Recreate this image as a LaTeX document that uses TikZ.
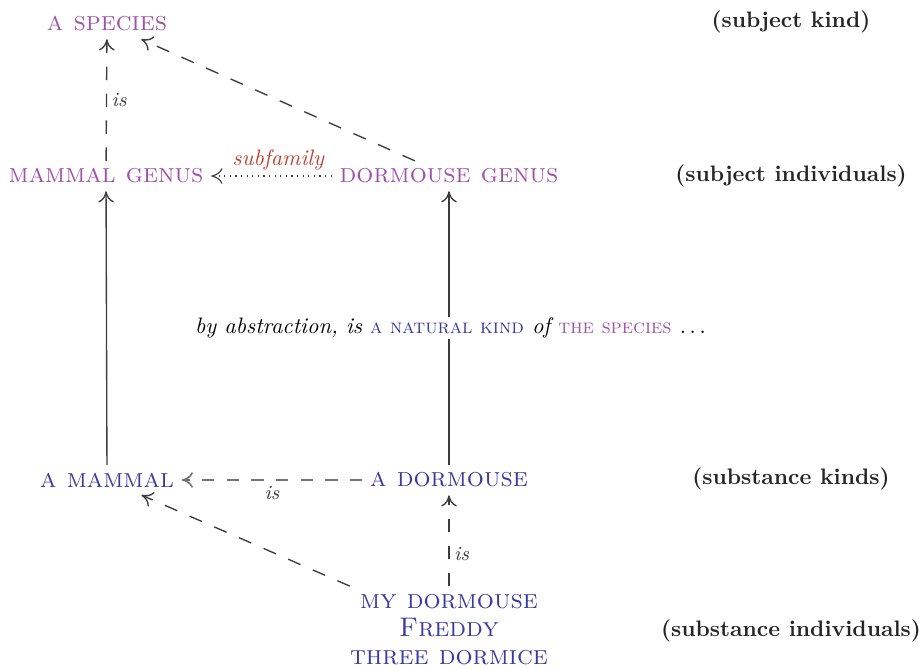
\documentclass[tikz,border=0pt]{standalone}
\usetikzlibrary{arrows.meta}
\definecolor{subjpurple}{RGB}{160,82,170}
\definecolor{subsblue}{RGB}{58,58,160}
\definecolor{relred}{RGB}{192,64,48}
\definecolor{arrgray}{RGB}{60,60,60}
\definecolor{lightarr}{RGB}{115,115,115}
\begin{document}
\begin{tikzpicture}[x=0.4464pt,y=-0.4464pt,
  subj/.style={font=\large\scshape, text=subjpurple},
  subs/.style={font=\large\scshape, text=subsblue},
  levellabel/.style={font=\bfseries, text=black!85},
  rel/.style={font=\small\itshape, text=arrgray},
  tip/.style={-{Computer Modern Rightarrow[length=5pt,width=7pt]}},
  isa/.style={draw=arrgray, line width=0.6pt, dash pattern=on 6pt off 6pt, tip},
  isagray/.style={draw=lightarr, line width=1.1pt, dash pattern=on 5.5pt off 5.5pt, -{Computer Modern Rightarrow[length=5pt,width=7pt,line width=0.7pt]}},
  abst/.style={draw=arrgray, line width=0.6pt, tip},
  subfam/.style={draw=arrgray, line width=0.5pt, dotted, tip}]
\useasboundingbox (0,0) rectangle (923,668);

\node[subj] (sp) at (107,24) {a species};
\node[subj] (mg) at (106,176) {mammal genus};
\node[subj] (dg) at (449,176) {dormouse genus};
\node[subs] (am) at (107,480) {a mammal};
\node[subs] (ad) at (449,480) {a dormouse};
\node[subs, align=center, font=\fontsize{12}{12.6}\selectfont\scshape] (fr) at (449,629.5)
  {my dormouse\\Freddy\\three dormice};

\node[levellabel] (l1) at (791,22) {(subject kind)};
\node[levellabel] (l2) at (791,176) {(subject individuals)};
\node[levellabel] (l3) at (791,479) {(substance kinds)};
\node[levellabel] (l4) at (791,631) {(substance individuals)};

\draw[isa] (mg) -- node[rel, right, inner sep=1pt, xshift=1pt] {is} (sp);
\draw[isa] (dg) -- (sp);
\draw[subfam] (dg) -- node[above, font=\itshape, text=relred, yshift=-1pt, xshift=3pt] {subfamily} (mg);
\draw[abst] (am) -- (mg);
\draw[abst] (ad) -- (dg);
\draw[isagray] (ad) -- node[rel, below, yshift=1pt] {is} (am);
\draw[isa] (fr) -- (am);
\draw[isa] (fr) -- node[rel, right, inner sep=1pt, xshift=1pt, pos=0.35] {is} (ad);

\node[fill=white, inner sep=0.5pt] (ab) at (450.5,328)
  {\itshape by abstraction, is \textcolor{subsblue}{\small\upshape\textsc{a natural kind}} of \textcolor{subjpurple}{\small\upshape\textsc{the species}} $\ldots$};
\end{tikzpicture}
\end{document}
